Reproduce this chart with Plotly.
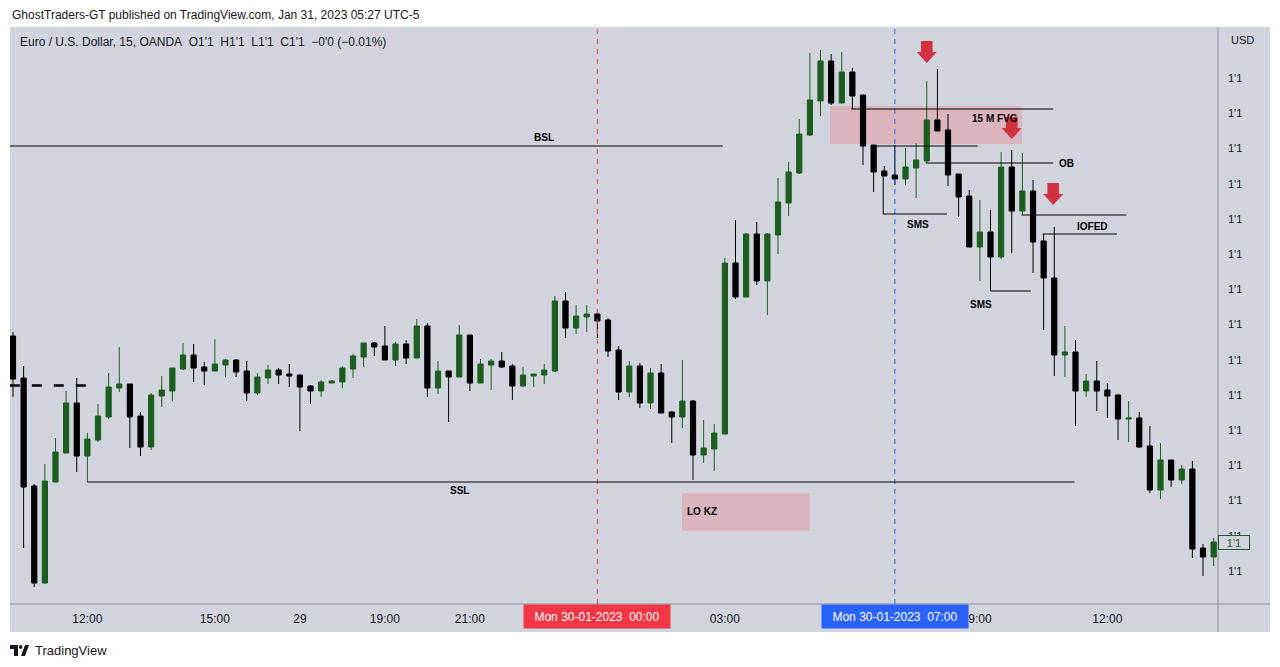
import plotly.graph_objects as go
import pandas as pd

# ---------------- data ----------------
times = (list(pd.date_range("2023-01-27 10:15", "2023-01-27 16:45", freq="15min").strftime("%d %H:%M"))
         + list(pd.date_range("2023-01-29 17:00", "2023-01-30 14:30", freq="15min").strftime("%d %H:%M")))

open_ = [1.08264,1.08222,1.08114,1.08017,1.08118,1.08147,1.08197,1.08144,1.08160,1.08183,
         1.08212,1.08216,1.08184,1.08153,1.08204,1.08209,1.08231,1.08245,1.08233,1.08229,
         1.08235,1.08240,1.08229,1.08207,1.08222,1.08230,1.08226,1.08225,1.08214,1.08209,
         1.08217,1.08218,1.08231,1.08243,1.08257,1.08254,1.08240,1.08256,1.08242,1.08274,
         1.08212,1.08229,1.08223,1.08265,1.08217,1.08235,1.08239,1.08234,1.08214,1.08224,
         1.08225,1.08229,1.08299,1.08272,1.08283,1.08286,1.08280,1.08250,1.08208,1.08234,
         1.08197,1.08227,1.08188,1.08183,1.08199,1.08145,1.08151,1.08166,1.08337,1.08303,
         1.08366,1.08319,1.08365,1.08397,1.08427,1.08465,1.08499,1.08539,1.08497,1.08528,
         1.08505,1.08455,1.08429,1.08425,1.08421,1.08432,1.08439,1.08480,1.08470,1.08426,
         1.08404,1.08353,1.08368,1.08343,1.08433,1.08389,1.08409,1.08359,1.08322,1.08245,
         1.08248,1.08209,1.08219,1.08210,1.08205,1.08181,1.08182,1.08154,1.08110,1.08140,
         1.08120,1.08131,1.08052,1.08043]

high = [1.08268,1.08234,1.08116,1.08136,1.08162,1.08209,1.08222,1.08167,1.08196,1.08227,
        1.08253,1.08216,1.08188,1.08207,1.08224,1.08232,1.08257,1.08256,1.08238,1.08261,
        1.08241,1.08241,1.08239,1.08227,1.08235,1.08232,1.08236,1.08225,1.08215,1.08220,
        1.08220,1.08234,1.08246,1.08257,1.08258,1.08274,1.08258,1.08260,1.08281,1.08277,
        1.08239,1.08229,1.08275,1.08265,1.08241,1.08241,1.08248,1.08236,1.08233,1.08226,
        1.08236,1.08304,1.08308,1.08295,1.08295,1.08288,1.08282,1.08254,1.08239,1.08237,
        1.08232,1.08236,1.08189,1.08240,1.08200,1.08180,1.08176,1.08342,1.08380,1.08367,
        1.08378,1.08367,1.08422,1.08438,1.08481,1.08547,1.08550,1.08546,1.08548,1.08532,
        1.08505,1.08455,1.08434,1.08455,1.08452,1.08457,1.08519,1.08531,1.08486,1.08426,
        1.08410,1.08400,1.08390,1.08448,1.08450,1.08447,1.08420,1.08366,1.08373,1.08274,
        1.08260,1.08226,1.08239,1.08217,1.08206,1.08199,1.08188,1.08174,1.08157,1.08140,
        1.08135,1.08139,1.08056,1.08062]

low = [1.08203,1.08052,1.08013,1.08016,1.08118,1.08147,1.08128,1.08118,1.08158,1.08181,
       1.08208,1.08152,1.08144,1.08150,1.08193,1.08199,1.08230,1.08218,1.08215,1.08229,
       1.08223,1.08223,1.08199,1.08205,1.08216,1.08216,1.08213,1.08169,1.08196,1.08203,
       1.08217,1.08212,1.08222,1.08233,1.08244,1.08240,1.08234,1.08236,1.08242,1.08203,
       1.08206,1.08178,1.08223,1.08209,1.08217,1.08210,1.08232,1.08200,1.08213,1.08213,
       1.08216,1.08228,1.08262,1.08266,1.08268,1.08262,1.08243,1.08200,1.08203,1.08192,
       1.08191,1.08187,1.08157,1.08172,1.08120,1.08137,1.08129,1.08166,1.08301,1.08303,
       1.08315,1.08285,1.08346,1.08384,1.08426,1.08464,1.08484,1.08495,1.08497,1.08491,
       1.08435,1.08408,1.08424,1.08415,1.08415,1.08402,1.08437,1.08469,1.08414,1.08383,
       1.08353,1.08319,1.08309,1.08341,1.08347,1.08386,1.08327,1.08270,1.08224,1.08223,
       1.08174,1.08203,1.08189,1.08182,1.08160,1.08158,1.08152,1.08107,1.08101,1.08113,
       1.08116,1.08042,1.08024,1.08034]

close = [1.08221,1.08113,1.08017,1.08119,1.08148,1.08197,1.08144,1.08161,1.08184,1.08213,
         1.08216,1.08183,1.08153,1.08205,1.08210,1.08232,1.08245,1.08232,1.08229,1.08236,
         1.08240,1.08228,1.08207,1.08223,1.08230,1.08225,1.08224,1.08213,1.08209,1.08218,
         1.08219,1.08232,1.08244,1.08257,1.08253,1.08240,1.08256,1.08242,1.08274,1.08212,
         1.08229,1.08223,1.08265,1.08217,1.08236,1.08239,1.08233,1.08214,1.08225,1.08226,
         1.08230,1.08299,1.08272,1.08284,1.08286,1.08279,1.08249,1.08208,1.08234,1.08197,
         1.08227,1.08187,1.08183,1.08199,1.08145,1.08152,1.08167,1.08337,1.08303,1.08366,
         1.08319,1.08366,1.08398,1.08428,1.08466,1.08500,1.08539,1.08497,1.08528,1.08504,
         1.08454,1.08428,1.08424,1.08421,1.08433,1.08440,1.08480,1.08469,1.08425,1.08403,
         1.08353,1.08368,1.08343,1.08433,1.08389,1.08409,1.08358,1.08322,1.08245,1.08248,
         1.08209,1.08219,1.08209,1.08204,1.08181,1.08182,1.08153,1.08110,1.08140,1.08120,
         1.08131,1.08051,1.08043,1.08058]

tick_idx = [7, 19, 27, 35, 43, 67, 91, 103]
tick_text = ["12:00", "15:00", "29", "19:00", "21:00", "03:00", "9:00", "12:00"]
price_ticks = [1.08029 + 0.00035214 * k for k in range(15)]
price_tick_text = ["1'1"] * 15

x = list(range(len(times)))

# ---------------- style ----------------
BG = "#D1D4DC"
GREEN = "#1B5E20"
TXT = "#131722"
PINK = "#DBB4BE"
ARROW = "#D3313F"
FONT = "Liberation Sans, Arial, sans-serif"

L, T, W, H = 10, 27, 1208, 577
def px(v):
    return (v - L) / W
def py(v):
    return 1 - (v - T) / H

fig = go.Figure()
fig.add_trace(go.Candlestick(
    x=x, open=open_, high=high, low=low, close=close,
    increasing=dict(line=dict(color=GREEN, width=1), fillcolor=GREEN),
    decreasing=dict(line=dict(color="#000000", width=1), fillcolor="#000000"),
    whiskerwidth=0, hoverinfo="skip", showlegend=False))

shapes = []
# chart frame background
shapes.append(dict(type="rect", xref="paper", yref="paper", x0=px(10), x1=px(1270), y0=py(632), y1=py(27),
                   fillcolor=BG, line=dict(width=0), layer="below"))
# zones
shapes.append(dict(type="rect", xref="x", yref="y", x0=62.96, x1=75.0, y0=1.08069, y1=1.08107,
                   fillcolor=PINK, line=dict(width=0), layer="below"))
shapes.append(dict(type="rect", xref="x", yref="y", x0=76.9, x1=94.96, y0=1.08456, y1=1.08494,
                   fillcolor=PINK, line=dict(width=0), layer="below"))
# session lines
shapes.append(dict(type="line", xref="x", yref="paper", x0=55, x1=55, y0=0, y1=1,
                   line=dict(color="#E5474F", width=1, dash="5px,5px")))
shapes.append(dict(type="line", xref="x", yref="paper", x0=83, x1=83, y0=0, y1=1,
                   line=dict(color="#2962FF", width=1, dash="5px,5px")))
# drawn levels
def hline(x0, x1, y, dash="solid", w=1):
    return dict(type="line", xref="x", yref="y", x0=x0, x1=x1, y0=y, y1=y,
                line=dict(color="#000000", width=w, dash=dash))
shapes += [
    hline(-0.3, 66.8, 1.08454),           # BSL
    hline(7.0, 99.9, 1.08118),            # SSL
    hline(-0.3, 6.9, 1.082145, "10px,12px", 2.5),
    hline(78.9, 97.9, 1.08491),
    hline(81.3, 90.8, 1.08454),
    hline(85.9, 97.9, 1.08437),           # OB
    hline(94.9, 104.8, 1.08385),
    hline(96.9, 103.9, 1.08366),          # IOFED
]
shapes.append(dict(type="path", xref="x", yref="y", path="M 81.9,1.08424 L 81.9,1.08386 L 87.9,1.08386",
                   line=dict(color="#000000", width=1)))
shapes.append(dict(type="path", xref="x", yref="y", path="M 92.0,1.08343 L 92.0,1.08309 L 95.8,1.08309",
                   line=dict(color="#000000", width=1)))
# arrows (tip anchored, pixel sized)
arrow_tips = [(86.0, 1.08537), (94.0, 1.08461), (97.9, 1.08395)]
for ax_, ay_ in arrow_tips:
    shapes.append(dict(type="path", xref="x", yref="y", xsizemode="pixel", ysizemode="pixel",
                       xanchor=ax_, yanchor=ay_,
                       path="M 0,0 L -10,11 L -5.8,11 L -5.8,22 L 5.8,22 L 5.8,11 L 10,11 Z",
                       fillcolor=ARROW, line=dict(width=0)))
# axis lines
shapes.append(dict(type="line", xref="paper", yref="paper", x0=px(10), x1=px(1270), y0=py(604), y1=py(604),
                   line=dict(color="#8A8D96", width=1)))
shapes.append(dict(type="line", xref="paper", yref="paper", x0=px(1218), x1=px(1218), y0=py(27), y1=py(632),
                   line=dict(color="#8A8D96", width=1)))
# small session ticks on the time axis
for xi, col in [(55, "#F23645"), (83, "#2962FF")]:
    shapes.append(dict(type="line", xref="x", yref="paper", x0=xi, x1=xi, y0=py(604), y1=py(608),
                       line=dict(color=col, width=1)))
# TradingView logo (approx)
for (a, b, c, d) in [(10, 18, 645, 649), (14, 18, 645, 656)]:
    shapes.append(dict(type="rect", xref="paper", yref="paper", x0=px(a), x1=px(b), y0=py(d), y1=py(c),
                       fillcolor=TXT, line=dict(width=0)))
shapes.append(dict(type="circle", xref="paper", yref="paper", x0=px(18.8), x1=px(22.4), y0=py(649), y1=py(645),
                   fillcolor=TXT, line=dict(width=0)))
shapes.append(dict(type="path", xref="paper", yref="paper",
                   path=f"M {px(21)},{py(656)} L {px(25)},{py(645)} L {px(29)},{py(645)} L {px(25)},{py(656)} Z",
                   fillcolor=TXT, line=dict(width=0)))

ann = []
def label(xv, yv, text, xanchor="center"):
    ann.append(dict(x=xv, y=yv, xref="x", yref="y", text=f"<b>{text}</b>", showarrow=False,
                    xanchor=xanchor, yanchor="middle", font=dict(size=10, color="#000000", family=FONT)))
label(50.0, 1.08463, "BSL")
label(42.0, 1.08110, "SSL")
label(63.2, 1.08089, "LO KZ", "left")
label(92.4, 1.08482, "15 M FVG")
label(98.3, 1.08437, "OB", "left")
label(85.2, 1.08376, "SMS")
label(101.6, 1.08374, "IOFED")
label(91.1, 1.08296, "SMS")

# texts outside the plot
ann.append(dict(x=px(10), y=py(15), xref="paper", yref="paper", showarrow=False, xanchor="left", yanchor="middle",
                text="GhostTraders-GT published on TradingView.com, Jan 31, 2023 05:27 UTC-5",
                font=dict(size=12, color=TXT, family=FONT)))
ann.append(dict(x=px(18), y=py(42), xref="paper", yref="paper", showarrow=False, xanchor="left", yanchor="middle",
                text="Euro / U.S. Dollar, 15, OANDA\u00a0\u00a0O1'1\u00a0\u00a0H1'1\u00a0\u00a0L1'1\u00a0\u00a0C1'1\u00a0\u00a0\u22120'0 (\u22120.01%)",
                font=dict(size=12, color=TXT, family=FONT)))
ann.append(dict(x=px(1229), y=py(40), xref="paper", yref="paper", showarrow=False, xanchor="left", yanchor="middle",
                text="USD", font=dict(size=11, color=TXT, family=FONT)))
ann.append(dict(x=px(33), y=py(650), xref="paper", yref="paper", showarrow=False, xanchor="left", yanchor="middle",
                text="TradingView", font=dict(size=13, color=TXT, family=FONT)))
# session boxes on the time axis
for xi, txt, col in [(55, "Mon 30-01-2023\u00a0\u00a000:00", "#F23645"), (83, "Mon 30-01-2023\u00a0\u00a007:00", "#2962FF")]:
    ann.append(dict(x=xi, y=py(616), xref="x", yref="paper", showarrow=False, xanchor="center", yanchor="middle",
                    text=txt, bgcolor=col, width=140, height=17, borderpad=3,
                    font=dict(size=12, color="#FFFFFF", family=FONT)))
# last price label
ann.append(dict(x=px(1234), y=close[-1], xref="paper", yref="y", showarrow=False, xanchor="center", yanchor="middle",
                text="1'1", bgcolor=BG, bordercolor=GREEN, borderwidth=1, borderpad=1, width=28, height=11,
                font=dict(size=11, color=GREEN, family=FONT)))

fig.update_layout(
    width=1280, height=667,
    margin=dict(l=L, r=1280 - L - W, t=T, b=667 - T - H),
    paper_bgcolor="#FFFFFF", plot_bgcolor=BG,
    shapes=shapes, annotations=ann,
    font=dict(family=FONT, color=TXT, size=12),
    xaxis=dict(range=[-0.282, 113.41], rangeslider=dict(visible=False), showgrid=False, zeroline=False,
               showline=False, tickmode="array", tickvals=tick_idx, ticktext=tick_text, ticks="",
               ticklabelstandoff=6, tickfont=dict(size=12, color=TXT)),
    yaxis=dict(range=[1.07996, 1.08573], side="right", showgrid=False, zeroline=False, showline=False,
               tickmode="array", tickvals=price_ticks, ticktext=price_tick_text, ticks="",
               ticklabelstandoff=9, tickfont=dict(size=11, color=TXT)),
    boxgap=0.3, showlegend=False,
)

fig.write_html("out.html", config={"displayModeBar": False},
               post_script="document.body.style.margin='0px';")
